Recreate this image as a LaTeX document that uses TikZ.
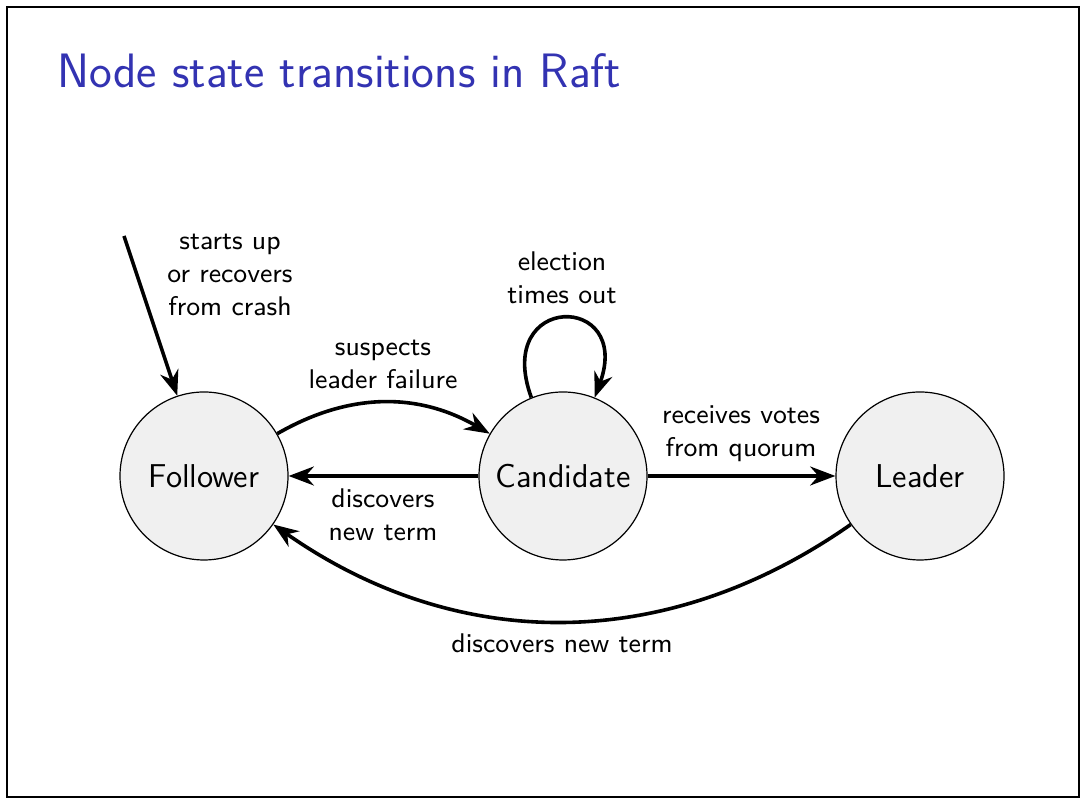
\documentclass[tikz,border=0pt]{standalone}
\usetikzlibrary{arrows.meta}
\definecolor{titleblue}{RGB}{51,51,178}
\definecolor{statefill}{RGB}{240,240,240}
\tikzset{
  state/.style={circle, draw=black, line width=0.4pt, fill=statefill, minimum size=56pt, inner sep=0pt, font=\sffamily\fontsize{11}{13.6}\selectfont},
  lbl/.style={align=center, inner sep=0pt, font=\sffamily\fontsize{9}{11}\selectfont},
  arr/.style={line width=1.2pt, -{Stealth}},
}
\begin{document}
\begin{tikzpicture}[x=0.333333pt, y=0.333333pt]
\useasboundingbox (0,0) rectangle (1092,804);
\draw[line width=0.4pt] (7,7) rectangle (1079,797);
\node[anchor=base west, inner sep=0pt, text=titleblue, font=\sffamily\fontsize{16.1}{19.5}\selectfont] (title) at (57,716) {Node state transitions in Raft};

\node[state] (F) at (204,328) {Follower};
\node[state] (C) at (563,328) {Candidate};
\node[state] (L) at (920,328) {Leader};
\coordinate (init) at (124,568);

\draw[arr] (init) -- (F);
\draw[arr] (F) to[bend left=30] (C);
\draw[arr] (C) -- (F);
\draw[arr] (C) -- (L);
\draw[arr] (L) to[bend left=35] (F);
\draw[arr] (C.112) .. controls +(110:112) and +(70:112) .. (C.68);

\node[lbl] (lstart) at (230,529) {starts up\\or recovers\\from crash};
\node[lbl] (lsusp) at (383,440) {suspects\\leader failure};
\node[lbl] (lelect) at (562,526) {election\\times out};
\node[lbl] (lvotes) at (741,370) {receives votes\\from quorum};
\node[lbl] (ldisc) at (383,289) {discovers\\new term};
\node[lbl] (ldisc2) at (562,161) {discovers new term};
\end{tikzpicture}
\end{document}
